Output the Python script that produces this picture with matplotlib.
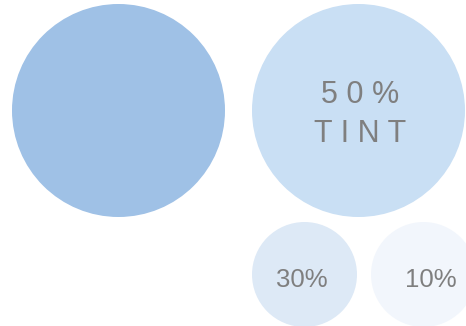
import matplotlib
matplotlib.use("Agg")
import matplotlib.pyplot as plt
from matplotlib.patches import Circle

# Data
tints = [100, 50, 30, 10]
labels = [[], ["5 0 %", "T I N T"], ["30%"], ["10%"]]
colors = ["#9fc1e6", "#c9dff4", "#dde9f6", "#f2f6fc"]

# Layout (pixel space)
centers = [(118.5, 110.5), (358.5, 110.5), (304.5, 274.5), (423.5, 274.5)]
radii = [106.5, 106.5, 52.5, 52.5]
text_x = [None, 360.5, 301.5, 430.5]
baselines = [[], [103, 141.5], [287], [287]]
font_sizes = [0, 22, 18.5, 18.5]

fig = plt.figure(figsize=(4.66, 3.26), dpi=100)
ax = fig.add_axes([0, 0, 1, 1])
ax.set_xlim(0, 466)
ax.set_ylim(326, 0)
ax.set_aspect("equal")
ax.axis("off")

for t, labs, col, c, r, tx, bls, fs in zip(tints, labels, colors, centers, radii,
                                           text_x, baselines, font_sizes):
    ax.add_patch(Circle(c, r, facecolor=col, edgecolor="none"))
    for lab, by in zip(labs, bls):
        ax.text(tx, by, lab, ha="center", va="baseline", fontsize=fs,
                color="#7f7f7f", family="Liberation Sans")

fig.savefig("out.png", dpi=100)
